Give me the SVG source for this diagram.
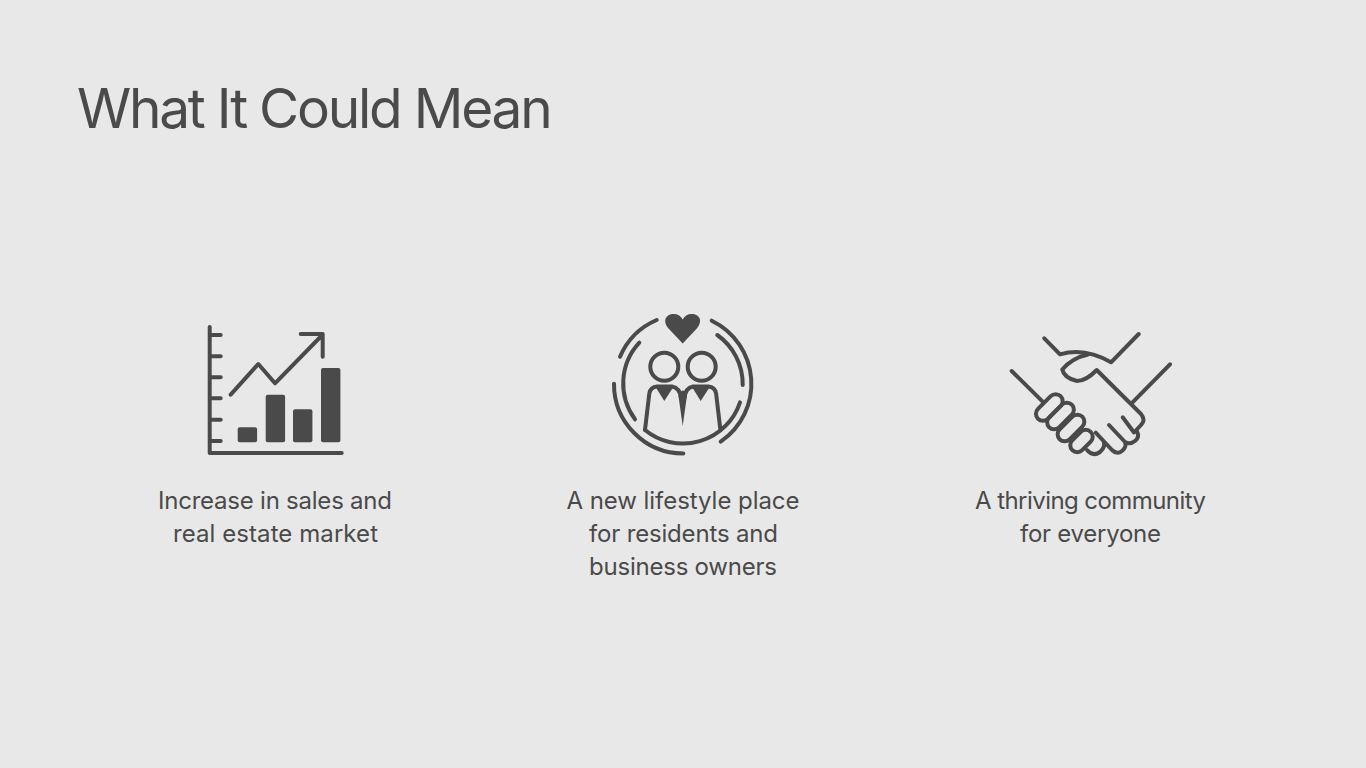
<svg xmlns="http://www.w3.org/2000/svg" width="1366" height="768" viewBox="0 0 1366 768">
<style>
.t{font-family:"Inter","Liberation Sans",sans-serif;fill:#4a4a4a}
.title{font-size:55px;font-weight:400;letter-spacing:-2.25px}
.body{font-size:24px;font-weight:400;text-anchor:middle}
.l{fill:none;stroke:#4a4a4a;stroke-linecap:round;stroke-linejoin:round;stroke-width:4}
.f{fill:#4a4a4a}
</style>
<rect width="1366" height="768" fill="#e8e8e8"/>
<text id="title" class="t title" x="77" y="127.500">What It Could Mean</text>
<g id="node-sales">
<path class="l" d="M209.7 327V453H341.7M210 335H220.7M210 356.3H220.7M210 377.3H220.7M210 398.3H220.7M210 419.7H220.7M210 441H220.7"/>
<rect class="f" x="237.7" y="427.3" width="19.4" height="15" rx="2"/>
<rect class="f" x="265.7" y="394.7" width="19.4" height="47.6" rx="2"/>
<rect class="f" x="293" y="409.3" width="19.4" height="33" rx="2"/>
<rect class="f" x="321" y="368" width="19.4" height="74.3" rx="2"/>
<path class="l" d="M230.7 394.7L258.3 364L275 383.3L322.3 335M300.7 334H322.7V356.7"/>
<text class="t body" x="275" y="509" textLength="234" lengthAdjust="spacing">Increase in sales and</text>
<text class="t body" x="275.500" y="542" textLength="205" lengthAdjust="spacing">real estate market</text>
</g>
<g id="node-lifestyle">
<path class="l" d="M656.7 320A70 70 0 0 0 620 356.7M711.7 320.7A70 70 0 0 1 720.7 441.7M614 383.7A69.500 69.500 0 0 0 683.3 453.500M639.300 342.700A60 60 0 0 0 635 419.300M717.300 335A60 60 0 0 1 742.700 385M740 402.300A60 60 0 0 1 645 430"/>
<circle class="l" cx="664.300" cy="366.700" r="14"/>
<circle class="l" cx="701.700" cy="366.700" r="14"/>
<path class="l" d="M645 430L649.300 393.500Q650.500 387 657 386.500H672Q680 388 681 398M720.400 430L716.100 393.500Q714.900 387 708.400 386.500H693Q685.400 388 684.400 398"/>
<path class="f" d="M655 386H674L664.300 401ZM691.400 386H710.400L700.700 401ZM678.500 396L682.700 426L686.900 396Q683 385 678.500 396Z"/>
<path class="f" d="M682.700 343.500L669.500 329.500C661.500 321 666 314 673.500 314C678 314 681 316 682.700 319.500C684.400 316 687.400 314 691.900 314C699.400 314 703.900 321 695.900 329.500Z"/>
<text class="t body" x="683" y="509" textLength="233" lengthAdjust="spacing">A new lifestyle place</text>
<text class="t body" x="683.500" y="542" textLength="189" lengthAdjust="spacing">for residents and</text>
<text class="t body" x="683" y="575" textLength="188" lengthAdjust="spacing">business owners</text>
</g>
<g id="node-community">
<path class="l" d="M1011.700 371L1042.700 401.700M1044.300 338.300L1060 354.300Q1085 347 1111 362.300L1138.700 334M1170 364.300L1132.300 402.700"/>
<path class="l" d="M1088 354.500Q1072 358 1062.300 369.500Q1064 378 1077 381Q1086 381 1096.700 370L1141 414Q1146 420 1141 425L1134 432.500L1122.700 417.300M1137 431.500Q1140 437 1135 441Q1130 445 1125 442L1109 425M1125 442Q1127 447 1122 451Q1117 455 1112 450L1095.700 432.700M1103.500 441Q1106 447 1100 452Q1093 457 1087 450"/>
<rect class="l" x="-16" y="-7" width="32" height="14" rx="7" transform="translate(1049.300 407.500) rotate(-45)"/>
<rect class="l" x="-16" y="-7" width="32" height="14" rx="7" transform="translate(1060.500 416) rotate(-45)"/>
<rect class="l" x="-16" y="-7" width="32" height="14" rx="7" transform="translate(1071 428) rotate(-45)"/>
<rect class="l" x="-13" y="-7" width="26" height="14" rx="7" transform="translate(1081.500 441) rotate(-45)"/>
<text class="t body" x="1090.500" y="509" textLength="231" lengthAdjust="spacing">A thriving community</text>
<text class="t body" x="1090.500" y="542" textLength="141" lengthAdjust="spacing">for everyone</text>
</g>
</svg>
